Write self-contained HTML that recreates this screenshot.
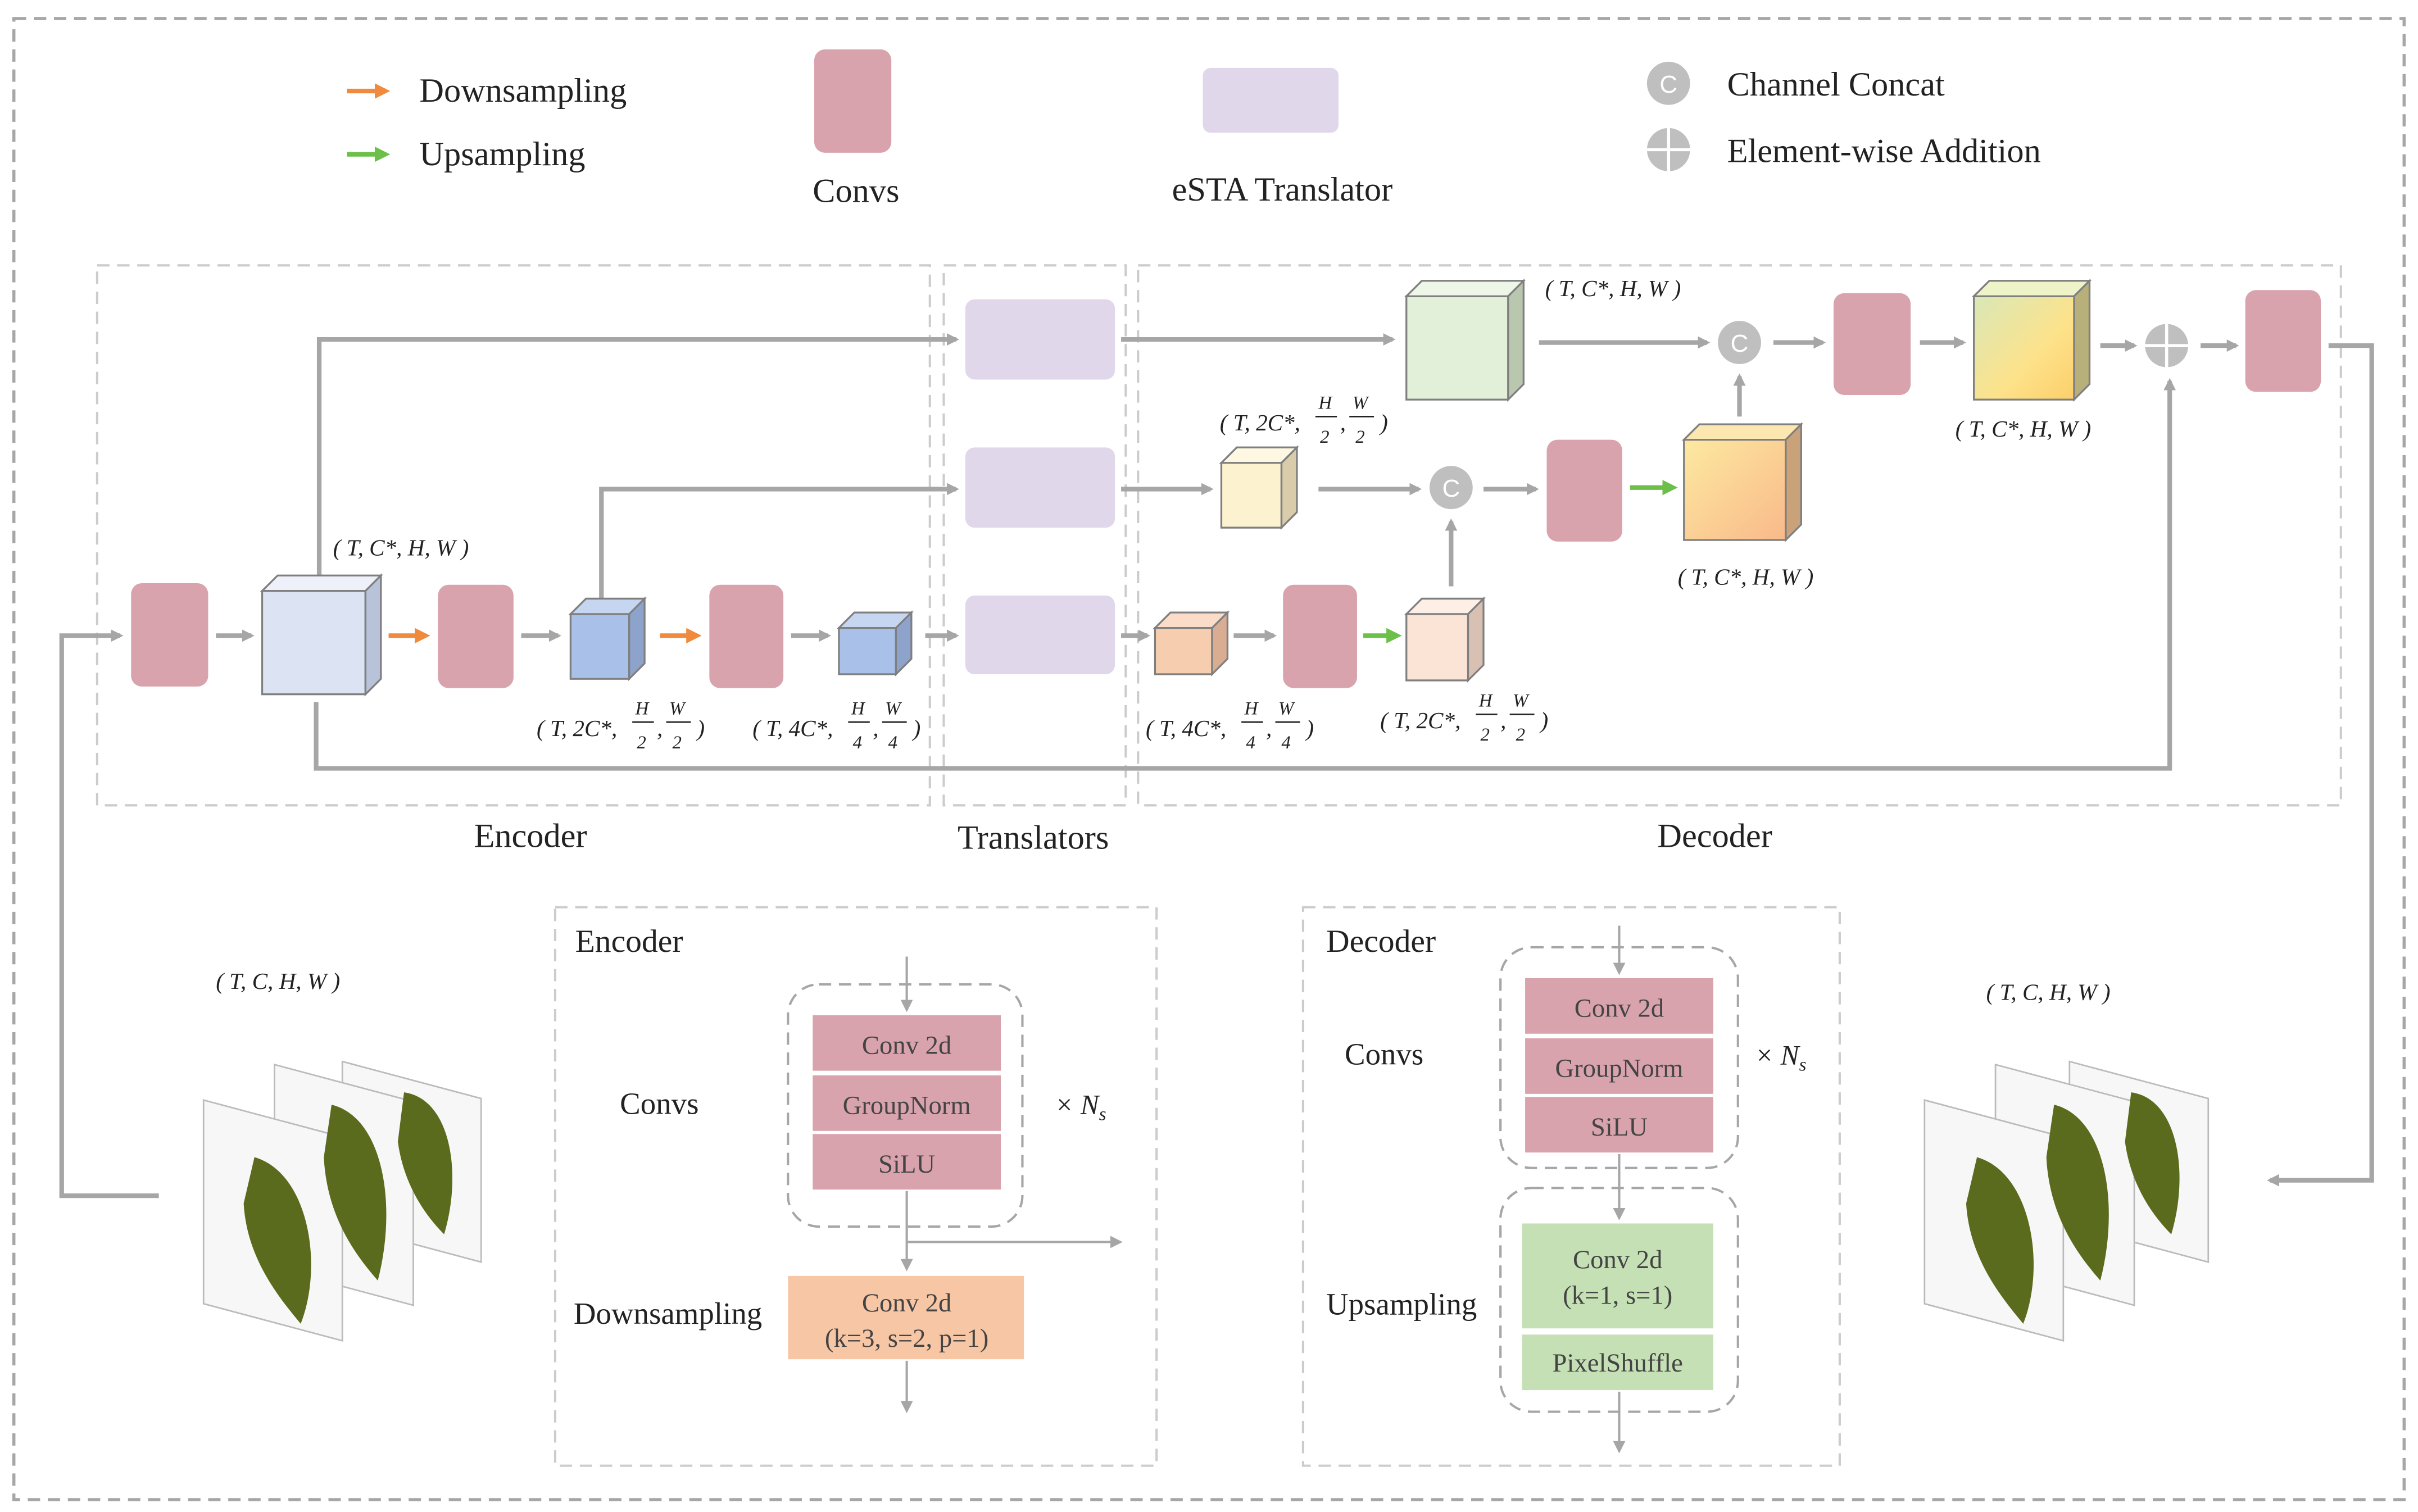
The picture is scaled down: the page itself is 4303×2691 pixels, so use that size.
<!DOCTYPE html>
<html><head><meta charset="utf-8"><style>
html,body{margin:0;padding:0;background:#fff}
svg{display:block}
text{font-family:"Liberation Serif",serif;fill:#222}
.m{font-style:italic;font-size:15px}
.s{font-size:12px;font-style:italic}
.b{font-size:17px;fill:#444;text-anchor:middle}
</style></head><body>
<svg width="4303" height="2691" viewBox="0 0 1568 980" preserveAspectRatio="none" xmlns="http://www.w3.org/2000/svg">
<defs>
<marker id="g" markerWidth="8" markerHeight="8" refX="6" refY="4" orient="auto" markerUnits="userSpaceOnUse"><path d="M0,0 L8,4 L0,8 Z" fill="#a6a6a6"/></marker>
<marker id="o" markerWidth="10" markerHeight="10" refX="7" refY="5" orient="auto" markerUnits="userSpaceOnUse"><path d="M0,0 L10,5 L0,10 Z" fill="#f08a3c"/></marker>
<marker id="gr" markerWidth="10" markerHeight="10" refX="7" refY="5" orient="auto" markerUnits="userSpaceOnUse"><path d="M0,0 L10,5 L0,10 Z" fill="#6cc04a"/></marker>
<linearGradient id="y1" x1="0" y1="0" x2="1" y2="1"><stop offset="0" stop-color="#fde9a0"/><stop offset="1" stop-color="#f9b98a"/></linearGradient>
<linearGradient id="y2" x1="0" y1="0" x2="1" y2="1"><stop offset="0" stop-color="#d9e8b8"/><stop offset="0.6" stop-color="#fde28a"/><stop offset="1" stop-color="#fccf6a"/></linearGradient>
</defs>
<g fill="none" stroke="#a6a6a6" stroke-dasharray="8,5" stroke-width="1.5">
<rect x="9" y="12" width="1550" height="960" stroke-width="2"/>
<rect x="63" y="172" width="540" height="350" stroke="#ccc"/>
<rect x="612" y="172" width="118" height="350" stroke="#ccc"/>
<rect x="738" y="172" width="780" height="350" stroke="#ccc"/>
<rect x="360" y="588" width="390" height="362" stroke="#ccc"/>
<rect x="845" y="588" width="348" height="362" stroke="#ccc"/>
<rect x="511" y="638" width="152" height="157" rx="20"/>
<rect x="973" y="614" width="154" height="143" rx="20"/>
<rect x="973" y="770" width="154" height="145" rx="20"/>
</g>
<!-- legend -->
<line x1="225" y1="59" x2="250" y2="59" stroke="#f08a3c" stroke-width="3" marker-end="url(#o)"/>
<text x="272" y="66" font-size="22">Downsampling</text>
<line x1="225" y1="100" x2="250" y2="100" stroke="#6cc04a" stroke-width="3" marker-end="url(#gr)"/>
<text x="272" y="107" font-size="22">Upsampling</text>
<rect x="528" y="32" width="50" height="67" rx="7" fill="#d9a3ad"/>
<text x="527" y="131" font-size="22">Convs</text>
<rect x="780" y="44" width="88" height="42" rx="5" fill="#e0d7ea"/>
<text x="760" y="130" font-size="22">eSTA Translator</text>
<circle cx="1082" cy="54" r="14" fill="#bfbfbf"/><text x="1082" y="60" font-size="16" fill="#fff" style="fill:#fff;font-family:'Liberation Sans',sans-serif" text-anchor="middle">C</text>
<text x="1120" y="62" font-size="22">Channel Concat</text>
<circle cx="1082" cy="97" r="14" fill="#bfbfbf"/><path d="M1068,97 H1096 M1082,83 V111" stroke="#fff" stroke-width="2"/>
<text x="1120" y="105" font-size="22">Element-wise Addition</text>
<text x="344" y="549" font-size="22" text-anchor="middle">Encoder</text>
<text x="670" y="550" font-size="22" text-anchor="middle">Translators</text>
<text x="1112" y="549" font-size="22" text-anchor="middle">Decoder</text>
<!-- connectors -->
<g stroke="#a6a6a6" stroke-width="3" fill="none">
<polyline points="103,775 40,775 40,412 78,412" marker-end="url(#g)"/>
<line x1="140" y1="412" x2="163" y2="412" marker-end="url(#g)"/>
<line x1="338" y1="412" x2="362" y2="412" marker-end="url(#g)"/>
<line x1="513" y1="412" x2="537" y2="412" marker-end="url(#g)"/>
<line x1="600" y1="412" x2="620" y2="412" marker-end="url(#g)"/>
<polyline points="207,373 207,220 620,220" marker-end="url(#g)"/>
<polyline points="390,390 390,317 620,317" marker-end="url(#g)"/>
<polyline points="205,455 205,498 1407,498 1407,247" marker-end="url(#g)"/>
<line x1="727" y1="412" x2="744" y2="412" marker-end="url(#g)"/>
<line x1="800" y1="412" x2="826" y2="412" marker-end="url(#g)"/>
<line x1="727" y1="317" x2="785" y2="317" marker-end="url(#g)"/>
<line x1="855" y1="317" x2="920" y2="317" marker-end="url(#g)"/>
<line x1="941" y1="380" x2="941" y2="338" marker-end="url(#g)"/>
<line x1="962" y1="317" x2="996" y2="317" marker-end="url(#g)"/>
<line x1="727" y1="220" x2="903" y2="220" marker-end="url(#g)"/>
<line x1="998" y1="222" x2="1107" y2="222" marker-end="url(#g)"/>
<line x1="1128" y1="270" x2="1128" y2="244" marker-end="url(#g)"/>
<line x1="1150" y1="222" x2="1182" y2="222" marker-end="url(#g)"/>
<line x1="1245" y1="222" x2="1273" y2="222" marker-end="url(#g)"/>
<line x1="1362" y1="224" x2="1384" y2="224" marker-end="url(#g)"/>
<line x1="1427" y1="224" x2="1450" y2="224" marker-end="url(#g)"/>
<polyline points="1510,224 1538,224 1538,765 1472,765" marker-end="url(#g)"/>
</g>
<g stroke-width="3"><line x1="252" y1="412" x2="276" y2="412" stroke="#f08a3c" marker-end="url(#o)"/>
<line x1="428" y1="412" x2="452" y2="412" stroke="#f08a3c" marker-end="url(#o)"/>
<line x1="884" y1="412" x2="906" y2="412" stroke="#6cc04a" marker-end="url(#gr)"/>
<line x1="1057" y1="316" x2="1085" y2="316" stroke="#6cc04a" marker-end="url(#gr)"/></g>
<!-- convs -->
<g fill="#d9a3ad">
<rect x="85" y="378" width="50" height="67" rx="7"/>
<rect x="284" y="379" width="49" height="67" rx="7"/>
<rect x="460" y="379" width="48" height="67" rx="7"/>
<rect x="832" y="379" width="48" height="67" rx="7"/>
<rect x="1003" y="285" width="49" height="66" rx="7"/>
<rect x="1189" y="190" width="50" height="66" rx="7"/>
<rect x="1456" y="188" width="49" height="66" rx="7"/>
</g>
<g fill="#e0d7ea"><rect x="626" y="194" width="97" height="52" rx="6"/><rect x="626" y="290" width="97" height="52" rx="6"/><rect x="626" y="386" width="97" height="51" rx="6"/></g>
<!-- cubes -->
<g stroke="#7f7f7f" stroke-width="1.2">
<rect x="170" y="383" width="67" height="67" fill="#dce3f3"/><polygon points="170,383 180,373 247,373 237,383" fill="#eef1f9"/><polygon points="237,383 247,373 247,440 237,450" fill="#b8c2d8"/>
<rect x="370" y="398" width="38" height="42" fill="#a9c0e8"/><polygon points="370,398 380,388 418,388 408,398" fill="#c7d6f0"/><polygon points="408,398 418,388 418,430 408,440" fill="#8da3cc"/>
<rect x="544" y="407" width="37" height="30" fill="#a9c0e8"/><polygon points="544,407 554,397 591,397 581,407" fill="#c7d6f0"/><polygon points="581,407 591,397 591,427 581,437" fill="#8da3cc"/>
<rect x="749" y="407" width="37" height="30" fill="#f7cdb0"/><polygon points="749,407 759,397 796,397 786,407" fill="#fadcc8"/><polygon points="786,407 796,397 796,427 786,437" fill="#d8ad92"/>
<rect x="912" y="398" width="40" height="43" fill="#fbe3d6"/><polygon points="912,398 922,388 962,388 952,398" fill="#fdeee6"/><polygon points="952,398 962,388 962,431 952,441" fill="#d8c0b3"/>
<rect x="792" y="300" width="39" height="42" fill="#fdf2cf"/><polygon points="792,300 802,290 841,290 831,300" fill="#fef8e3"/><polygon points="831,300 841,290 841,332 831,342" fill="#d8ccaa"/>
<rect x="1092" y="285" width="66" height="65" fill="url(#y1)"/><polygon points="1092,285 1102,275 1168,275 1158,285" fill="#fde7b0"/><polygon points="1158,285 1168,275 1168,340 1158,350" fill="#c9a27a"/>
<rect x="912" y="192" width="66" height="67" fill="#e2f0d9"/><polygon points="912,192 922,182 988,182 978,192" fill="#eef6e8"/><polygon points="978,192 988,182 988,249 978,259" fill="#b9c7ae"/>
<rect x="1280" y="192" width="65" height="67" fill="url(#y2)"/><polygon points="1280,192 1290,182 1355,182 1345,192" fill="#eef4c8"/><polygon points="1345,192 1355,182 1355,249 1345,259" fill="#b8b07a"/>
</g>
<circle cx="941" cy="316" r="14" fill="#bfbfbf"/><text x="941" y="322" font-size="16" style="fill:#fff;font-family:'Liberation Sans',sans-serif" text-anchor="middle">C</text>
<circle cx="1128" cy="222" r="14" fill="#bfbfbf"/><text x="1128" y="228" font-size="16" style="fill:#fff;font-family:'Liberation Sans',sans-serif" text-anchor="middle">C</text>
<circle cx="1405" cy="224" r="14" fill="#bfbfbf"/><path d="M1391,224 H1419 M1405,210 V238" stroke="#fff" stroke-width="2"/>
<!-- shape labels -->
<text x="216" y="360" class="m">( T, C*, H, W )</text>
<text x="1002" y="192" class="m">( T, C*, H, W )</text>
<text x="1268" y="283" class="m">( T, C*, H, W )</text>
<text x="1088" y="379" class="m">( T, C*, H, W )</text>
<text x="140" y="641" class="m">( T, C, H, W )</text>
<text x="1288" y="648" class="m">( T, C, H, W )</text>
<g class="m">
<text x="348" y="477" class="m">( T, 2C*,</text><text x="412" y="463" class="s">H</text><line x1="410" y1="468" x2="424" y2="468" stroke="#222"/><text x="413" y="485" class="s">2</text><text x="426" y="477" class="m">,</text><text x="434" y="463" class="s">W</text><line x1="432" y1="468" x2="448" y2="468" stroke="#222"/><text x="436" y="485" class="s">2</text><text x="452" y="477" class="m">)</text>
<text x="488" y="477" class="m">( T, 4C*,</text><text x="552" y="463" class="s">H</text><line x1="550" y1="468" x2="564" y2="468" stroke="#222"/><text x="553" y="485" class="s">4</text><text x="566" y="477" class="m">,</text><text x="574" y="463" class="s">W</text><line x1="572" y1="468" x2="588" y2="468" stroke="#222"/><text x="576" y="485" class="s">4</text><text x="592" y="477" class="m">)</text>
<text x="743" y="477" class="m">( T, 4C*,</text><text x="807" y="463" class="s">H</text><line x1="805" y1="468" x2="819" y2="468" stroke="#222"/><text x="808" y="485" class="s">4</text><text x="821" y="477" class="m">,</text><text x="829" y="463" class="s">W</text><line x1="827" y1="468" x2="843" y2="468" stroke="#222"/><text x="831" y="485" class="s">4</text><text x="847" y="477" class="m">)</text>
<text x="895" y="472" class="m">( T, 2C*,</text><text x="959" y="458" class="s">H</text><line x1="957" y1="463" x2="971" y2="463" stroke="#222"/><text x="960" y="480" class="s">2</text><text x="973" y="472" class="m">,</text><text x="981" y="458" class="s">W</text><line x1="979" y1="463" x2="995" y2="463" stroke="#222"/><text x="983" y="480" class="s">2</text><text x="999" y="472" class="m">)</text>
<text x="791" y="279" class="m">( T, 2C*,</text><text x="855" y="265" class="s">H</text><line x1="853" y1="270" x2="867" y2="270" stroke="#222"/><text x="856" y="287" class="s">2</text><text x="869" y="279" class="m">,</text><text x="877" y="265" class="s">W</text><line x1="875" y1="270" x2="891" y2="270" stroke="#222"/><text x="879" y="287" class="s">2</text><text x="895" y="279" class="m">)</text>
</g>
<!-- frames -->
<g stroke="#bbb" stroke-width="1">
<polygon points="222,688 312,712 312,818 222,794" fill="#f7f7f7"/>
<polygon points="178,690 268,714 268,846 178,822" fill="#f7f7f7"/>
<polygon points="132,713 222,737 222,869 132,845" fill="#f7f7f7"/>
<polygon points="1342,688 1432,712 1432,818 1342,794" fill="#f7f7f7"/>
<polygon points="1294,690 1384,714 1384,846 1294,822" fill="#f7f7f7"/>
<polygon points="1248,713 1338,737 1338,869 1248,845" fill="#f7f7f7"/>
</g>
<g fill="#5a6b1e">
<path d="M262,708 C292,712 300,760 288,800 C278,790 262,770 258,740 Z"/>
<path d="M215,716 C248,724 258,780 245,830 C232,815 212,790 210,750 Z"/>
<path d="M165,750 C200,760 210,820 195,858 C180,840 160,815 158,780 Z"/>
<path d="M1382,708 C1412,712 1420,760 1408,800 C1398,790 1382,770 1378,740 Z"/>
<path d="M1332,716 C1365,724 1375,780 1362,830 C1349,815 1329,790 1327,750 Z"/>
<path d="M1282,750 C1317,760 1327,820 1312,858 C1297,840 1277,815 1275,780 Z"/>
</g>
<!-- lower encoder -->
<text x="373" y="617" font-size="21">Encoder</text>
<g fill="#d9a3ad"><rect x="527" y="658" width="122" height="36"/><rect x="527" y="697" width="122" height="36"/><rect x="527" y="735" width="122" height="36"/>
<rect x="989" y="634" width="122" height="36"/><rect x="989" y="673" width="122" height="36"/><rect x="989" y="711" width="122" height="36"/></g>
<text class="b" x="588" y="683">Conv 2d</text><text class="b" x="588" y="722">GroupNorm</text><text class="b" x="588" y="760">SiLU</text>
<text x="402" y="722" font-size="20">Convs</text>
<text x="684" y="722" font-size="18" font-style="italic">× N<tspan font-size="12" dy="4">s</tspan></text>
<g stroke="#a6a6a6" stroke-width="1.5" fill="none">
<line x1="588" y1="620" x2="588" y2="654" marker-end="url(#g)"/>
<line x1="588" y1="772" x2="588" y2="822" marker-end="url(#g)"/>
<line x1="588" y1="805" x2="726" y2="805" marker-end="url(#g)"/>
<line x1="588" y1="882" x2="588" y2="914" marker-end="url(#g)"/>
<line x1="1050" y1="600" x2="1050" y2="630" marker-end="url(#g)"/>
<line x1="1050" y1="748" x2="1050" y2="789" marker-end="url(#g)"/>
<line x1="1050" y1="902" x2="1050" y2="940" marker-end="url(#g)"/>
</g>
<rect x="511" y="827" width="153" height="54" fill="#f7c6a5"/>
<text class="b" x="588" y="850">Conv 2d</text><text class="b" x="588" y="873">(k=3, s=2, p=1)</text>
<text x="372" y="858" font-size="20">Downsampling</text>
<!-- lower decoder -->
<text x="860" y="617" font-size="21">Decoder</text>
<text class="b" x="1050" y="659">Conv 2d</text><text class="b" x="1050" y="698">GroupNorm</text><text class="b" x="1050" y="736">SiLU</text>
<text x="872" y="690" font-size="20">Convs</text>
<text x="1138" y="690" font-size="18" font-style="italic">× N<tspan font-size="12" dy="4">s</tspan></text>
<rect x="987" y="793" width="124" height="68" fill="#c5e0b4"/><rect x="987" y="865" width="124" height="36" fill="#c5e0b4"/>
<text class="b" x="1049" y="822">Conv 2d</text><text class="b" x="1049" y="845">(k=1, s=1)</text><text class="b" x="1049" y="889">PixelShuffle</text>
<text x="860" y="852" font-size="20">Upsampling</text>
</svg>
</body></html>
